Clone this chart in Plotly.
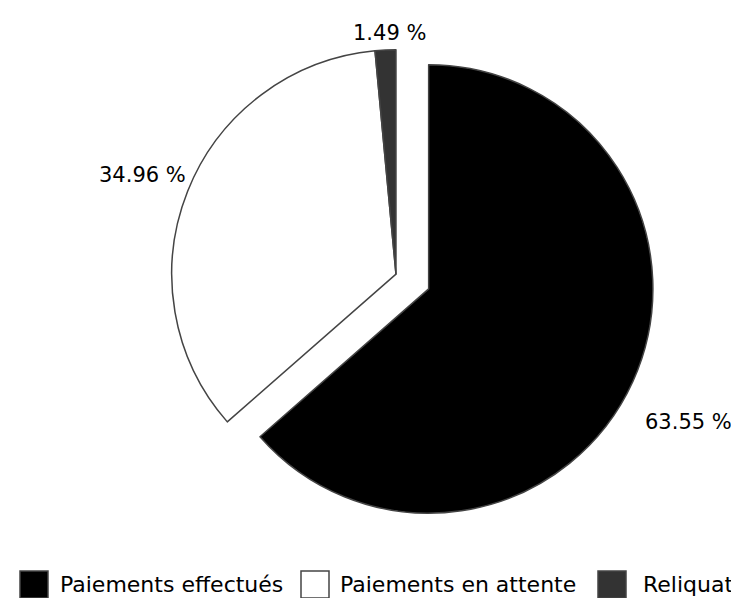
import plotly.graph_objects as go

labels = ["Paiements effectués", "Paiements en attente", "Reliquat"]
values = [63.55, 34.96, 1.49]
colors = ["#000000", "#ffffff", "#333333"]
pulls = [0.16, 0, 0]

text = [f"{v:.2f} %" for v in values]

W, H = 739, 598

fig = go.Figure(go.Pie(
    labels=labels, values=values,
    textinfo="none",
    sort=False, direction="clockwise", rotation=0,
    pull=pulls,
    marker=dict(colors=colors, line=dict(color="#444444", width=1.5)),
    domain=dict(x=[0.095, 0.955], y=[0.12, 0.99]),
    showlegend=False,
))

# percentage labels placed outside the slices (pixel centres)
label_px = [(680, 414), (134, 167), (381, 25)]
for t, (px, py) in zip(text, label_px):
    fig.add_annotation(x=px / W, y=1 - py / H, xref="paper", yref="paper", text=t,
                       showarrow=False, xanchor="center", yanchor="middle",
                       font=dict(family="DejaVu Sans", size=21, color="#000000"))

# legend drawn as swatches + labels along the bottom
swatch_x = [12, 293, 590]
text_x = [50, 330, 633]
sw_w, sw_top, sw_bot = 28, 563, 590
leg_y = 576
for lab, col, sx, tx in zip(labels, colors, swatch_x, text_x):
    fig.add_shape(type="rect", xref="paper", yref="paper",
                  x0=sx / W, x1=(sx + sw_w) / W, y0=1 - sw_bot / H, y1=1 - sw_top / H,
                  fillcolor=col, line=dict(color="#444444", width=1.5))
    fig.add_annotation(x=tx / W, y=1 - leg_y / H, xref="paper", yref="paper", text=lab,
                       showarrow=False, xanchor="left", yanchor="middle",
                       font=dict(family="DejaVu Sans", size=22, color="#000000"))

fig.update_layout(
    width=W, height=H,
    paper_bgcolor="white", plot_bgcolor="white",
    margin=dict(l=0, r=0, t=0, b=0),
    font=dict(family="DejaVu Sans", size=20, color="#000000"),
    showlegend=False,
)

fig.write_html("out.html")
